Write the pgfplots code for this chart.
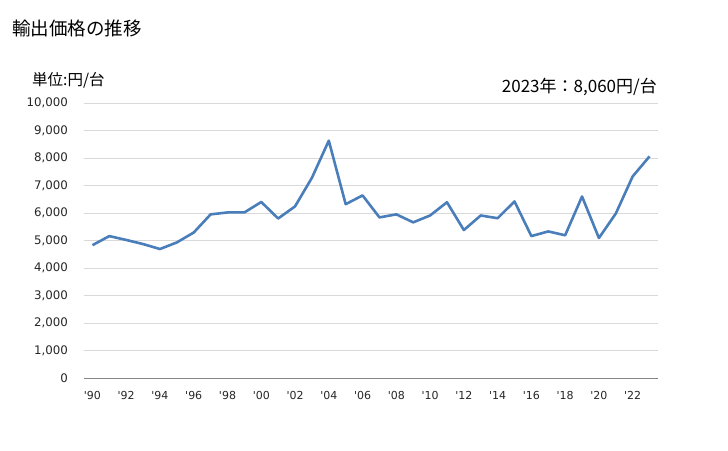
\documentclass[border=0pt]{standalone}
\usepackage{fontspec}
\setmainfont{Noto Sans CJK JP}
\newfontfamily\tickfont{DejaVu Sans}
\usepackage{pgfplots}
\pgfplotsset{compat=1.18}
\definecolor{linecol}{HTML}{4A7EBB}
\definecolor{gridcol}{HTML}{D9D9D9}
\definecolor{axiscol}{HTML}{868686}
\begin{document}
\begin{tikzpicture}
\useasboundingbox (0pt,0pt) rectangle (728pt,450pt);
\node[anchor=west,inner sep=0pt,font=\fontsize{18.5}{19}\selectfont] at (12pt,422pt) {輸出価格の推移};
\node[anchor=west,inner sep=0pt,font=\fontsize{15.5}{16}\selectfont] at (32pt,370pt) {単位:円/台};
\node[anchor=east,inner sep=0pt,font=\fontsize{17}{18}\selectfont] at (657pt,363pt) {2023年：8,060円/台};
\begin{axis}[
  at={(84pt,72pt)}, anchor=south west,
  scale only axis, width=574pt, height=275pt,
  xmin=1989.5, xmax=2023.5, ymin=0, ymax=10000,
  axis line style={draw=none},
  ytick={0,1000,...,10000},
  xtick={1990,1992,...,2022},
  xticklabels={'90,'92,'94,'96,'98,'00,'02,'04,'06,'08,'10,'12,'14,'16,'18,'20,'22},
  ymajorgrids, grid style={gridcol, line width=0.9pt},
  tick style={draw=none},
  ticklabel style={text=black!85, inner sep=0pt},
  yticklabel style={font=\tickfont\fontsize{11.8}{12}\selectfont, anchor=east, xshift=-16pt},
  xticklabel style={font=\tickfont\fontsize{11}{12}\selectfont, anchor=north, yshift=-13pt},
  scaled y ticks=false,
  /pgf/number format/.cd, 1000 sep={,}, assume math mode=true,
  /pgfplots/.cd,
  clip=false,
]
\draw[axiscol, line width=0.9pt] (axis cs:1989.5,0) -- (axis cs:2023.5,0);
\addplot[linecol, line width=2.6pt, mark=none, line join=round] coordinates {
(1990,4830) (1991,5160) (1992,5020) (1993,4870) (1994,4690) (1995,4930)
(1996,5290) (1997,5950) (1998,6020) (1999,6020) (2000,6400) (2001,5800)
(2002,6240) (2003,7280) (2004,8630) (2005,6320) (2006,6640) (2007,5840)
(2008,5950) (2009,5660) (2010,5910) (2011,6390) (2012,5380) (2013,5910)
(2014,5810) (2015,6420) (2016,5160) (2017,5330) (2018,5190) (2019,6600)
(2020,5090) (2021,5980) (2022,7330) (2023,8060)
};
\end{axis}
\end{tikzpicture}
\end{document}
